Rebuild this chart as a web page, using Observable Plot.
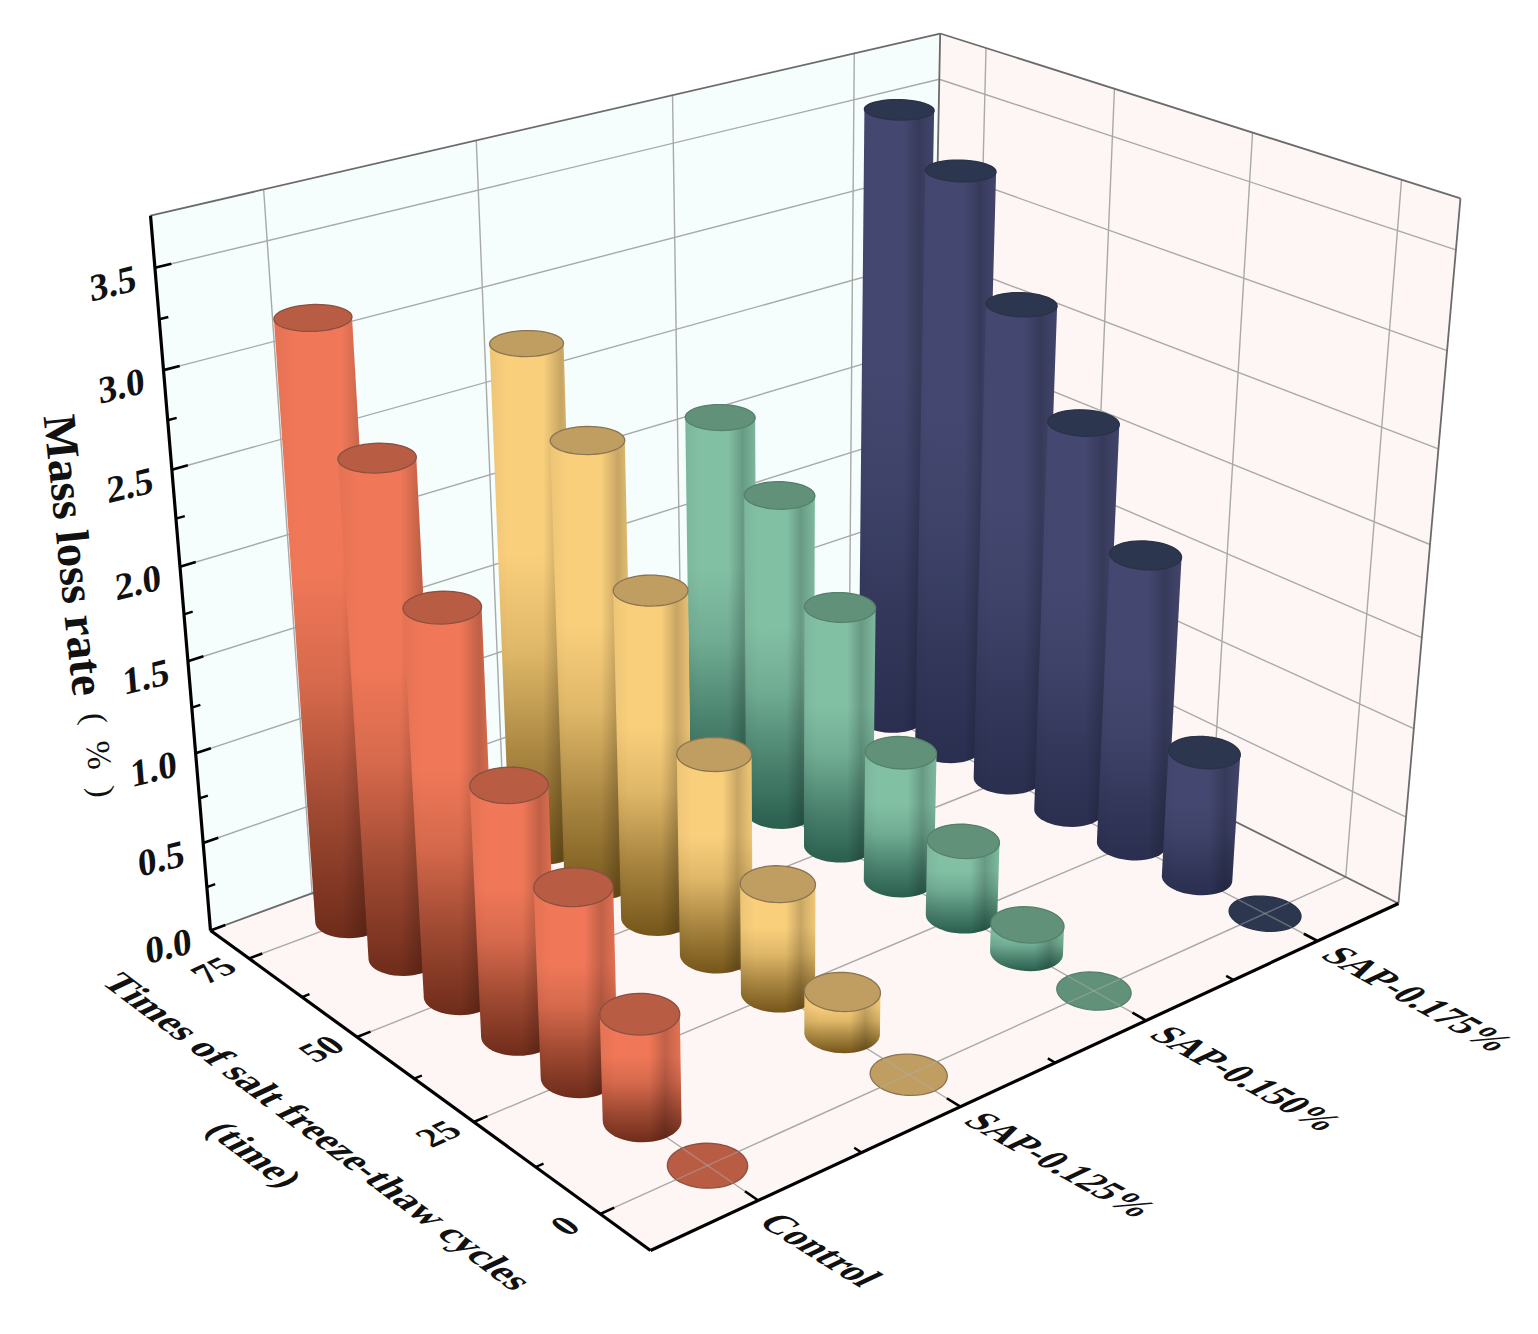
<!DOCTYPE html>
<html><head><meta charset="utf-8">
<style>html,body{margin:0;padding:0;background:#fff}svg{display:block}</style>
<script src="https://cdn.jsdelivr.net/npm/d3@7"></script>
<script src="https://cdn.jsdelivr.net/npm/@observablehq/plot@0.6"></script>
</head><body><div id="chart"></div>
<script>
const seriesNames = ["Control","SAP-0.125%","SAP-0.150%","SAP-0.175%"];
const cycles = [0,12.5,25,37.5,50,62.5,75];
const control = [0,0.57,1.02,1.35,2.08,2.67,3.22];
const sap125  = [0,0.23,0.61,1.12,1.82,2.45,2.81];
const sap150  = [0,0.16,0.43,0.74,1.38,1.84,2.12];
const sap175  = [0,0.73,1.66,2.23,2.73,3.32,3.53];
const table = [control,sap125,sap150,sap175];
const yTicks = [0,0.5,1,1.5,2,2.5,3,3.5];
const yMinor = [0.25,0.75,1.25,1.75,2.25,2.75,3.25];
const xMinor = [0.5,1.5,2.5];
const cycleTicks = [0,25,50,75];
const cycleMinor = [12.5,37.5,62.5];
const yMax = 3.75;
const bodyColors = ["#f07858","#f9cf7c","#82c0a4","#444870"];
const darkColors = ["#6e2c1a","#75561a","#2a5e4e","#2a2f50"];
const capColors  = ["#b95c44","#c09e62","#62917a","#2d364f"];
const edgeColors = ["#8a5040","#8a7550","#55806c","#2a3248"];

// 3D box -> screen perspective
const O=[650,1250],A=[998.2,-185.4],B=[-406.4,-171.2],C=[-85.9,-852.8],K=[0.179,0.160,-0.1089];
function P(u,v,w){const d=1+K[0]*u+K[1]*v+K[2]*w;
  return {x:(O[0]+A[0]*u+B[0]*v+C[0]*w)/d,y:(O[1]+A[1]*u+B[1]*v+C[1]*w)/d};}
const U=i=>(i+0.5)/4, V=c=>0.10+c/75*0.8, W=y=>y/yMax;
const link=(a,b)=>({x1:a.x,y1:a.y,x2:b.x,y2:b.y});
const lines=(rows,o)=>Plot.link(rows,{x1:"x1",y1:"y1",x2:"x2",y2:"y2",...o});
const poly=(pts,o)=>Plot.line(pts,{x:"x",y:"y",curve:"linear-closed",...o});

function textMark(rows,o,suffix){
  return Plot.text(rows,{x:"x",y:"y",text:"t",fontFamily:"'Liberation Serif','Noto Sans CJK SC',serif",fontWeight:"bold",fill:"#111",...o,
    render(index,scales,values,dim,ctx,next){const g=next(index,scales,values,dim,ctx);
      if(suffix) g.querySelectorAll("text").forEach(t=>t.setAttribute("transform",(t.getAttribute("transform")||"")+" "+suffix));
      return g;}});
}
function defs(){
  const s=d3.create("svg:defs");
  bodyColors.forEach((c,i)=>{
    const g=s.append("linearGradient").attr("id","body"+i).attr("x1",0).attr("y1",0).attr("x2",0).attr("y2",1);
    const mix=d3.interpolateRgb(c,darkColors[i]);
    [[0,c],[0.42,c],[0.6,mix(0.2)],[0.8,mix(0.62)],[1,darkColors[i]]].forEach(([o,col])=>g.append("stop").attr("offset",o).attr("stop-color",col));
  });
  const h=s.append("linearGradient").attr("id","shade").attr("x1",0).attr("y1",0).attr("x2",1).attr("y2",0);
  [[0,0.05],[0.2,0],[0.6,0],[0.8,0.2],[0.92,0.1],[1,0.04]].forEach(([o,a])=>h.append("stop").attr("offset",o).attr("stop-color","#000").attr("stop-opacity",a));
  return s.node();
}
const ru=0.037,rv=0.051;
const thetas=d3.range(48).map(k=>k/48*2*Math.PI);
const ring=(u,v,w)=>thetas.map(t=>P(u+ru*Math.cos(t),v+rv*Math.sin(t),w));

const bars=[];
for(let s=3;s>=0;s--) for(let k=cycles.length-1;k>=0;k--){
  const u=U(s),v=V(cycles[k]),w=W(table[s][k]);
  const top=ring(u,v,w);
  if(w>0){
    const hull=d3.polygonHull([...top,...ring(u,v,0)].map(p=>[p.x,p.y])).map(([x,y])=>({x,y}));
    bars.push(poly(hull,{fill:`url(#body${s})`,stroke:"none"}));
    bars.push(poly(hull,{fill:"url(#shade)",stroke:"none"}));
    bars.push(poly(top,{fill:capColors[s],stroke:edgeColors[s],strokeWidth:1.3}));
  } else {
    bars.push(poly(top,{fill:capColors[s],stroke:edgeColors[s],strokeWidth:1.3}));
    bars.push(lines([link(P(u-ru,v,0),P(u+ru,v,0)),link(P(u,v-rv,0),P(u,v+rv,0))],{stroke:"#b0b0b0",strokeOpacity:0.45,strokeWidth:1.4}));
  }
}
// walls
const wallL=[P(0,1,0),P(1,1,0),P(1,1,1),P(0,1,1)];
const wallR=[P(1,1,0),P(1,0,0),P(1,0,1),P(1,1,1)];
const floor=[P(0,0,0),P(1,0,0),P(1,1,0),P(0,1,0)];
const us=d3.range(4).map(U);
const vs=cycleTicks.map(V);
const grid=[
  ...yTicks.slice(1).map(y=>link(P(0,1,W(y)),P(1,1,W(y)))),
  ...yTicks.slice(1).map(y=>link(P(1,1,W(y)),P(1,0,W(y)))),
  ...us.map(u=>link(P(u,1,0),P(u,1,1))),
  ...vs.map(v=>link(P(1,v,0),P(1,v,1))),
  ...us.map(u=>link(P(u,0,0),P(u,1,0))),
  ...vs.map(v=>link(P(0,v,0),P(1,v,0)))
];
const backEdges=[link(P(0,1,1),P(1,1,1)),link(P(1,1,1),P(1,0,1)),link(P(1,1,0),P(1,1,1)),link(P(1,0,0),P(1,0,1)),link(P(0,1,0),P(1,1,0)),link(P(1,1,0),P(1,0,0))];
const axes=[link(P(0,0,0),P(1,0,0)),link(P(0,0,0),P(0,1,0)),link(P(0,1,0),P(0,1,1))];
const majT=[
  ...yTicks.map(y=>link(P(0,1,W(y)),P(0.018,1,W(y)))),
  ...vs.map(v=>link(P(0,v,0),P(0.016,v,0))),
  ...us.map(u=>link(P(u,0,0),P(u,0.026,0)))
];
const minT=[
  ...yMinor.map(y=>link(P(0,1,W(y)),P(0.01,1,W(y)))),
  ...cycleMinor.map(c=>link(P(0,V(c),0),P(0.009,V(c),0))),
  ...xMinor.map(i=>link(P(U(i),0,0),P(U(i),0.014,0)))
];
const yLab=yTicks.map(y=>({...P(0,1,W(y)),t:y.toFixed(1)}));
const cLab=cycleTicks.map(c=>({...P(0,V(c),0),t:String(c)}));
const sLab=seriesNames.map((n,i)=>({...P(U(i),0,0),t:n}));
const midY=P(0,0.5,0.5), midF=P(0,0.5,0);

const chart=Plot.plot({
  width:1538,height:1334,margin:0,
  x:{domain:[0,1538],range:[0,1538],axis:null},
  y:{domain:[0,1334],range:[0,1334],axis:null},
  style:{background:"#fff"},
  marks:[
    defs,
    poly(wallL,{fill:"#f5fdfd",stroke:"none"}),
    poly(wallR,{fill:"#fef6f5",stroke:"none"}),
    poly(floor,{fill:"#fef6f5",stroke:"none"}),
    lines(grid,{stroke:"#a9a9a9",strokeWidth:1.4}),
    lines(backEdges,{stroke:"#6b6b6b",strokeWidth:1.8}),
    ...bars,
    lines(axes,{stroke:"#000",strokeWidth:3.2}),
    lines(majT,{stroke:"#000",strokeWidth:2.6}),
    lines(minT,{stroke:"#000",strokeWidth:2.4}),
    textMark(yLab,{fontSize:38,dx:-42,dy:16},"matrix(.97,-.24,.08,1,0,0)"),
    textMark(cLab,{fontSize:34,dx:-35,dy:12},"matrix(.95,-.44,.85,.62,0,0)"),
    textMark(sLab.slice(0,1),{fontSize:37,textAnchor:"start",dx:10,dy:17},"matrix(.845,.53,-1,.47,0,0)"),
    textMark(sLab.slice(1),{fontSize:36.5,textAnchor:"start",dx:13,dy:10},"matrix(.875,.485,-1,.47,0,0)"),
    textMark([{...midY,t:"Mass loss rate"}],{fontSize:47,dx:-321,dy:-165,rotate:84}),
    textMark([{...midY,t:"(\u2002%\u2002)"}],{fontSize:34,fontWeight:"normal",dx:-296,dy:35,rotate:84}),
    textMark([{...midF,t:"Times of salt freeze-thaw cycles"}],{fontSize:38.5,dx:-97,dy:53},"matrix(.8,.6,-.92,.43,0,0)"),
    textMark([{...midF,t:"(time)"}],{fontSize:38,dx:-160,dy:76},"matrix(.8,.6,-.92,.43,0,0)")
  ]
});
document.getElementById("chart").append(chart);
</script></body></html>
